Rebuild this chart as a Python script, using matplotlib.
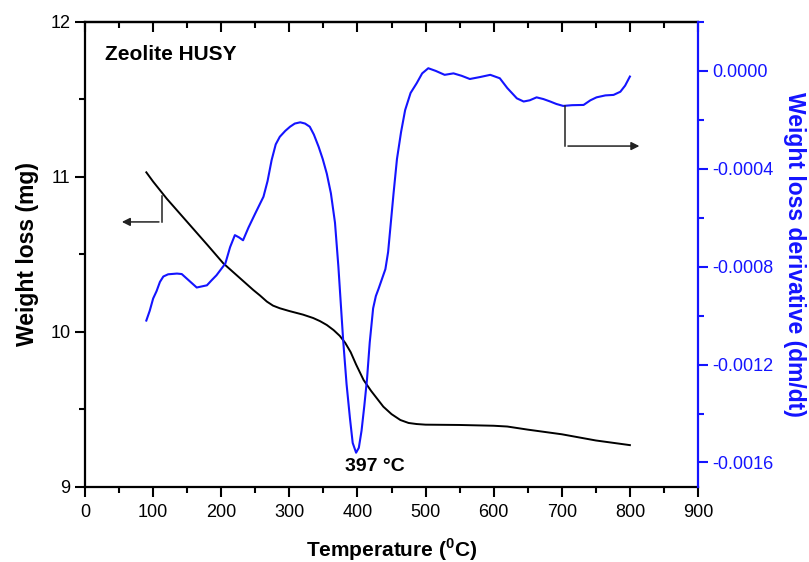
import matplotlib
matplotlib.use('Agg')
import matplotlib.pyplot as plt
from matplotlib.ticker import MultipleLocator, FormatStrFormatter

plt.rcParams['font.family'] = ['Liberation Sans', 'DejaVu Sans']
plt.rcParams['mathtext.fontset'] = 'custom'
plt.rcParams['mathtext.rm'] = 'Liberation Sans'
plt.rcParams['mathtext.bf'] = 'Liberation Sans:bold'

# Weight loss curve (TG), left axis
temp_tg = [90, 100, 120, 150, 180, 203, 225, 247, 257, 267, 276, 286, 300, 320,
           335, 345, 355, 365, 374, 382, 390, 398, 409, 420, 438, 450, 463, 475,
           487, 500, 550, 600, 620, 650, 700, 750, 800]
weight = [11.03, 10.97, 10.86, 10.71, 10.56, 10.443, 10.357, 10.271, 10.235,
          10.196, 10.17, 10.153, 10.135, 10.112, 10.09, 10.07, 10.045, 10.012,
          9.975, 9.93, 9.87, 9.79, 9.69, 9.62, 9.518, 9.47, 9.432, 9.413, 9.406,
          9.402, 9.40, 9.395, 9.39, 9.37, 9.34, 9.30, 9.27]

# Derivative curve (DTG), right axis
temp_dtg = [90, 95, 100, 105, 110, 115, 122, 135, 142, 150, 164, 179, 186, 193,
            206, 213, 220, 226, 232, 240, 250, 262, 268, 274, 280, 286, 294, 301,
            308, 316, 323, 330, 336, 343, 349, 355, 361, 367, 372, 379, 384, 389,
            393, 398, 402, 406, 410, 414, 418, 423, 427, 431, 436, 441, 445, 448,
            453, 458, 464, 470, 478, 487, 495, 504, 515, 528, 541, 553, 565, 580,
            595, 609, 620, 634, 644, 653, 663, 673, 683, 692, 702, 715, 732, 742,
            751, 764, 776, 786, 793, 800]
deriv = [-0.00102, -0.00098, -0.00093, -0.0009, -0.000862, -0.00084, -0.000831,
         -0.000828, -0.00083, -0.00085, -0.000885, -0.000876, -0.000855, -0.000835,
         -0.000787, -0.00072, -0.000671, -0.00068, -0.000692, -0.00064, -0.000582,
         -0.000514, -0.00045, -0.000364, -0.0003, -0.000269, -0.000245, -0.000228,
         -0.000215, -0.00021, -0.000215, -0.000228, -0.00026, -0.00031, -0.00036,
         -0.00042, -0.0005, -0.00062, -0.0008, -0.0011, -0.00128, -0.00142,
         -0.00152, -0.00156, -0.00154, -0.00147, -0.00137, -0.00126, -0.00111,
         -0.00097, -0.00092, -0.00089, -0.00085, -0.00081, -0.00074, -0.00065,
         -0.0005, -0.00036, -0.00025, -0.00016, -0.00009, -0.00005, -0.00001,
         0.000011, 0.0, -0.000016, -0.00001, -0.00002, -0.000033, -0.000025,
         -0.000016, -0.00003, -0.00007, -0.000112, -0.000125, -0.00012, -0.000108,
         -0.000115, -0.000125, -0.000135, -0.000143, -0.00014, -0.000139,
         -0.00012, -0.000108, -0.0001, -0.000098, -0.000085, -0.00006, -0.000023]

blue = '#1414ff'

fig = plt.figure(figsize=(8.09, 5.62), dpi=100)
ax = fig.add_axes([0.1051, 0.1335, 0.7577, 0.8274])

ax.plot(temp_tg, weight, color='black', lw=1.4)
ax.set_xlim(0, 900)
ax.set_ylim(9, 12)
ax.xaxis.set_major_locator(MultipleLocator(100))
ax.xaxis.set_minor_locator(MultipleLocator(50))
ax.yaxis.set_major_locator(MultipleLocator(1))
ax.yaxis.set_minor_locator(MultipleLocator(0.5))
ax.tick_params(which='major', direction='out', length=7, width=1.5, labelsize=13)
ax.tick_params(which='minor', direction='out', length=4, width=1.5)
ax.tick_params(axis='x', pad=5)
for s in ['left', 'bottom', 'top']:
    ax.spines[s].set_linewidth(1.6)
ax.spines['right'].set_visible(False)

# top axis ticks point inward, no labels
top = ax.secondary_xaxis('top')
top.xaxis.set_major_locator(MultipleLocator(100))
top.xaxis.set_minor_locator(MultipleLocator(50))
top.tick_params(which='major', direction='in', length=7, width=1.5, labeltop=False)
top.tick_params(which='minor', direction='in', length=4, width=1.5)
top.spines['top'].set_linewidth(1.6)

ax.set_xlabel(r'Temperature ($^\mathbf{0}$C)', fontsize=15, fontweight='bold', labelpad=11)
ax.set_ylabel('Weight loss (mg)', fontsize=16.5, fontweight='bold', labelpad=8)

ax2 = ax.twinx()
ax2.plot(temp_dtg, deriv, color=blue, lw=1.5)
ax2.set_ylim(-0.0017, 0.0002)
ax2.yaxis.set_major_locator(MultipleLocator(0.0004))
ax2.yaxis.set_minor_locator(MultipleLocator(0.0002))
ax2.yaxis.set_major_formatter(FormatStrFormatter('%.4f'))
ax2.tick_params(which='major', direction='out', length=7, width=1.5, colors=blue, labelsize=13)
ax2.tick_params(which='minor', direction='out', length=4, width=1.5, colors=blue)
for s in ['left', 'bottom', 'top']:
    ax2.spines[s].set_visible(False)
ax2.spines['right'].set_color(blue)
ax2.spines['right'].set_linewidth(1.6)
ax2.set_ylabel('Weight loss derivative (dm/dt)', fontsize=16.5, fontweight='bold',
               color=blue, rotation=270, labelpad=23)

# annotations
ax.text(30, 11.79, 'Zeolite HUSY', fontsize=15, fontweight='bold', va='center')
ax.text(426, 9.13, '397 °C', fontsize=14, fontweight='bold', ha='center', va='center')

# arrow pointing to the left axis
ax.plot([112.6, 112.6], [10.875, 10.71], color='#222222', lw=1.1)
ax.annotate('', xy=(50, 10.71), xytext=(112.6, 10.71),
            arrowprops=dict(arrowstyle='-|>', color='#222222', lw=1.1, mutation_scale=12))

# arrow pointing to the right axis
ax2.plot([705, 705], [-0.000143, -0.000307], color='#222222', lw=1.1)
ax2.annotate('', xy=(818, -0.000307), xytext=(705, -0.000307),
             arrowprops=dict(arrowstyle='-|>', color='#222222', lw=1.1, mutation_scale=12))

plt.savefig('out.png', dpi=100)
